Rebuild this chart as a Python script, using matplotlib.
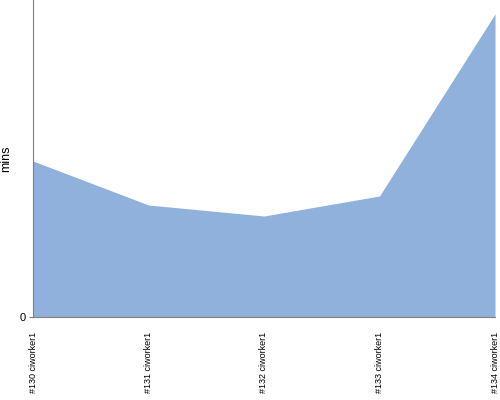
import matplotlib
matplotlib.use("Agg")
import matplotlib.pyplot as plt

builds = ["#130 ciworker1", "#131 ciworker1", "#132 ciworker1", "#133 ciworker1", "#134 ciworker1"]
minutes = [15.6, 11.2, 10.1, 12.1, 30.3]
y_max = 31.7

fig = plt.figure(figsize=(5, 4), dpi=100)
ax = fig.add_axes([0.066, 0.2075, 0.924, 0.7925])

x = range(len(builds))
ax.fill_between(x, minutes, 0, color="#8fb1db", linewidth=0)

ax.set_xlim(0, len(builds) - 1)
ax.set_ylim(0, y_max)
ax.set_xticks(list(x))
ax.set_xticklabels(builds, rotation=90, fontsize=6.5, family="Liberation Sans")
ax.set_yticks([0])
ax.set_yticklabels(["0"], fontsize=8, family="Liberation Sans")
ax.set_ylabel("mins", fontsize=9, family="Liberation Sans")
ax.yaxis.set_label_coords(-0.045, 0.5)

ax.spines[["top", "right"]].set_visible(False)
for side in ["left", "bottom"]:
    ax.spines[side].set_color("#808080")
    ax.spines[side].set_linewidth(0.8)
ax.tick_params(axis="x", length=0, pad=11)
ax.tick_params(axis="y", length=3, color="#808080", pad=2)

fig.savefig("out.png", dpi=100)
